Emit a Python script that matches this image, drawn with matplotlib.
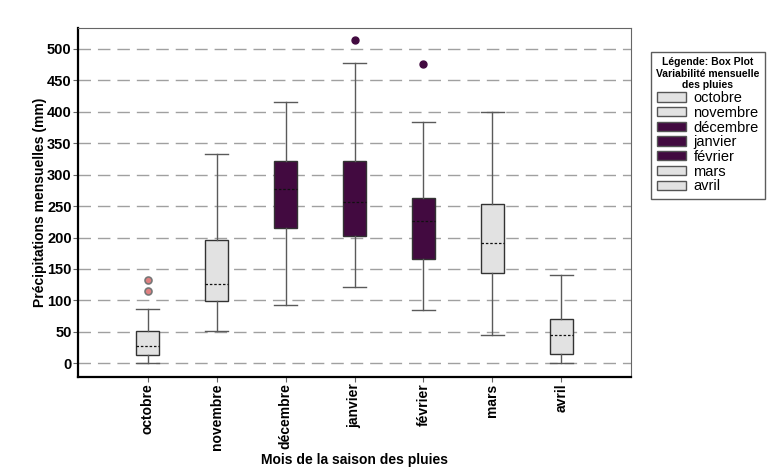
import matplotlib
matplotlib.use('Agg')
import matplotlib.pyplot as plt
from matplotlib.patches import Patch

plt.rcParams['font.family'] = ['Liberation Sans', 'DejaVu Sans']

# data (mm)
months = ['octobre', 'novembre', 'décembre', 'janvier', 'février', 'mars', 'avril']
whislo = [0, 52, 92, 121, 84, 45, 0]
q1 = [14, 99, 215, 203, 166, 143, 15]
med = [27, 126, 277, 256, 226, 191, 45]
q3 = [51, 196, 321, 322, 263, 254, 70]
whishi = [86, 332, 415, 478, 383, 400, 140]
fliers = [[115, 133], [], [], [514], [476], [], []]
wet = [False, False, True, True, True, False, False]   # core rainy months in purple

purple = '#420a40'
grey = '#e2e2e2'

stats = []
for i in range(len(months)):
    stats.append({'label': months[i], 'whislo': whislo[i], 'q1': q1[i], 'med': med[i],
                  'q3': q3[i], 'whishi': whishi[i], 'fliers': fliers[i]})

fig = plt.figure(figsize=(7.68, 4.75), dpi=100)
ax = fig.add_axes([0.1016, 0.206, 0.72, 0.735])

pos = list(range(1, len(months) + 1))
bp = ax.bxp(stats, positions=pos, widths=0.34, patch_artist=True, showfliers=True,
            boxprops=dict(edgecolor='#333333', linewidth=1.0),
            whiskerprops=dict(color='#5a5a5a', linewidth=1.0),
            capprops=dict(color='#5a5a5a', linewidth=1.0),
            medianprops=dict(color='#111111', linewidth=0.9, linestyle=(0, (2, 1.5))),
            zorder=3)
for box, w in zip(bp['boxes'], wet):
    box.set_facecolor(purple if w else grey)
for cap in bp['caps']:
    x = cap.get_xdata()
    c = (x[0] + x[1]) / 2
    cap.set_xdata([c - 0.17, c + 0.17])
for fl, w in zip(bp['fliers'], wet):
    if w:
        fl.set(marker='o', markerfacecolor=purple, markeredgecolor=purple, markersize=5)
    else:
        fl.set(marker='o', markerfacecolor='#e08080', markeredgecolor='#777777',
               markersize=5, markeredgewidth=1.2)

ax.set_xlim(-0.01, 8.01)
ax.set_ylim(-22, 533)
ax.set_yticks(range(0, 501, 50))
ax.yaxis.grid(True, color='#a0a0a0', linestyle=(0, (9, 5)), linewidth=1.0, zorder=0)
ax.set_axisbelow(True)

ax.set_xticks(pos)
ax.set_xticklabels(months, rotation=90, fontweight='bold', fontsize=10)
for lab in ax.get_yticklabels():
    lab.set_fontweight('bold')
    lab.set_fontsize(10.5)
ax.tick_params(axis='both', direction='out', length=3.6, pad=1, color='#666666')

ax.set_ylabel('Précipitations mensuelles (mm)', fontweight='bold', fontsize=10, labelpad=0)
ax.set_xlabel('Mois de la saison des pluies', fontweight='bold', fontsize=10, labelpad=2)

ax.spines['left'].set_linewidth(1.6)
ax.spines['bottom'].set_linewidth(1.6)
ax.spines['left'].set_color('black')
ax.spines['bottom'].set_color('black')
ax.spines['top'].set_color('#666666')
ax.spines['right'].set_color('#666666')

handles = [Patch(facecolor=purple if w else grey, edgecolor='#555555') for w in wet]
leg = fig.legend(handles, months, loc='upper left', bbox_to_anchor=(0.8477, 0.8905),
                 borderaxespad=0,
                 title='Légende: Box Plot\nVariabilité mensuelle\ndes pluies',
                 title_fontproperties={'weight': 'bold', 'size': 7.5},
                 fontsize=10.5, frameon=True, fancybox=False, edgecolor='#333333',
                 handlelength=2.0, handleheight=0.6, labelspacing=0.05,
                 borderpad=0.35, handletextpad=0.5, alignment='center')
leg.get_title().set_multialignment('center')
leg.get_frame().set_linewidth(1.0)

# cut-off tail of the surrounding document text
fig.text(0.013, 1.0, 'dernier mois.', fontsize=17, family='Liberation Serif',
         va='baseline', ha='left')

fig.savefig('out.png', dpi=100)
